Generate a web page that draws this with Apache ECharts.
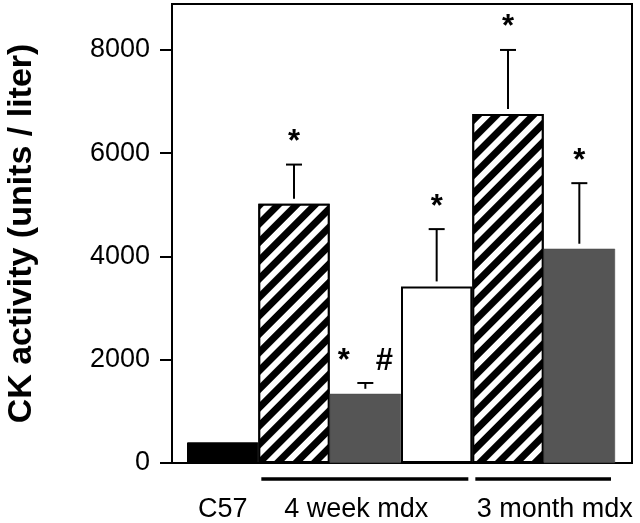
<!DOCTYPE html>
<html><head><meta charset="utf-8">
<script src="https://cdn.jsdelivr.net/npm/echarts@6/dist/echarts.min.js"></script>
<style>html,body{margin:0;padding:0;background:#fff}#c{width:640px;height:523px}</style>
</head><body><div id="c"></div>
<script>
// ---- data ----
const categories = ['C57', '4wk-1', '4wk-2', '4wk-3', '3mo-1', '3mo-2'];
const meanValues = [400, 5020, 1340, 3420, 6760, 4150];
const errorTops  = [null, 5780, 1550, 4530, 8000, 5420];
const sigLabels  = ['', '*', '*   #', '*', '*', '*'];
const barKinds   = ['solid', 'hatch', 'gray', 'white', 'hatch', 'gray'];
const groupNames = ['C57', '4 week mdx', '3 month mdx'];
const groupStart = [0, 1, 4];
const groupEnd   = [0, 3, 5];
const groupUnderline = [false, true, true];
const yTicks = [0, 2000, 4000, 6000, 8000];
const yMin = 0, yMax = 8890;

// ---- styles ----
const FONT = '"Liberation Sans", Arial, Helvetica, sans-serif';
const groupLabelShift = [0, -9, 11];
const hatchDecal = {
  symbol: 'rect', symbolSize: 1,
  dashArrayX: [1, 0], dashArrayY: [7, 6],
  rotation: -Math.PI / 4, color: '#000', backgroundColor: '#fff'
};
function styleFor(kind) {
  if (kind === 'solid') return { color: '#000', borderColor: '#000', borderWidth: 1 };
  if (kind === 'hatch') return { color: '#fff', borderColor: '#000', borderWidth: 2, decal: hatchDecal };
  if (kind === 'gray') return { color: '#555', borderColor: '#444', borderWidth: 0.5 };
  return { color: '#fff', borderColor: '#000', borderWidth: 2 };
}

const barData = meanValues.map((v, i) => ({ value: v, itemStyle: styleFor(barKinds[i]) }));
const errData = [];
errorTops.forEach((e, i) => { if (e != null) errData.push([i, meanValues[i], e]); });
const groupData = groupNames.map((n, g) => [groupStart[g], groupEnd[g], g]);

const chart = echarts.init(document.getElementById('c'), null, { renderer: 'canvas' });
chart.setOption({
  animation: false,
  backgroundColor: '#fff',
  grid: [
    { left: 187, right: 25, top: 4, bottom: 60, show: false, containLabel: false, outerBoundsMode: 'none' },
    { left: 172, right: 8, top: 4, bottom: 60, show: true, borderColor: '#000', borderWidth: 2,
      backgroundColor: 'transparent', containLabel: false, outerBoundsMode: 'none' }
  ],
  xAxis: [
    { gridIndex: 0, type: 'category', data: categories, show: false, boundaryGap: true },
    { gridIndex: 1, type: 'value', show: false, min: 0, max: 1 }
  ],
  yAxis: [
    { gridIndex: 0, type: 'value', min: yMin, max: yMax, show: false },
    {
      gridIndex: 1, type: 'value', min: yMin, max: yMax, interval: 2000,
      axisLine: { show: true, lineStyle: { color: '#000', width: 2 } },
      axisTick: { show: true, inside: false, length: 12, lineStyle: { color: '#000', width: 2 }, customValues: yTicks },
      axisLabel: { show: true, margin: 22, color: '#000', fontSize: 27, fontFamily: FONT, customValues: yTicks,
                   formatter: function (v) { return String(v); } },
      splitLine: { show: false },
      name: 'CK activity (units / liter)',
      nameLocation: 'middle', nameRotate: 90, nameGap: 133,
      nameTextStyle: { color: '#000', fontSize: 34, fontWeight: 'bold', fontFamily: FONT }
    }
  ],
  series: [
    {
      type: 'bar', xAxisIndex: 0, yAxisIndex: 0, data: barData,
      barWidth: '100%', barGap: '0%', barCategoryGap: '0%', z: 3
    },
    {
      type: 'custom', xAxisIndex: 0, yAxisIndex: 0, data: errData, z: 4,
      renderItem: function (params, api) {
        const i = api.value(0), v = api.value(1), e = api.value(2);
        const p0 = api.coord([i, v]);
        const p1 = api.coord([i, e]);
        const children = [
          { type: 'line', shape: { x1: p0[0], y1: p0[1] - 5, x2: p1[0], y2: p1[1] }, style: { stroke: '#000', lineWidth: 2 } },
          { type: 'line', shape: { x1: p1[0] - 8, y1: p1[1], x2: p1[0] + 8, y2: p1[1] }, style: { stroke: '#000', lineWidth: 2 } }
        ];
        const lab = sigLabels[i];
        if (lab) children.push({
          type: 'text', x: p1[0], y: p1[1] - 22,
          style: { text: lab, fill: '#000', font: 'bold 31px ' + FONT, align: 'center', verticalAlign: 'middle' }
        });
        return { type: 'group', children: children };
      }
    },
    {
      type: 'custom', xAxisIndex: 0, yAxisIndex: 0, data: groupData, z: 4, clip: false,
      renderItem: function (params, api) {
        const s = api.value(0), e = api.value(1), g = api.value(2);
        const band = api.size([1, 0])[0];
        const ps = api.coord([s, 0]), pe = api.coord([e, 0]);
        const left = ps[0] - band / 2, right = pe[0] + band / 2;
        const y0 = ps[1];
        const children = [];
        if (groupUnderline[g]) children.push({
          type: 'line', shape: { x1: left + 3, y1: y0 + 16, x2: right - 4, y2: y0 + 16 },
          style: { stroke: '#000', lineWidth: 3.5 }
        });
        children.push({
          type: 'text', x: (left + right) / 2 + groupLabelShift[g], y: y0 + 47,
          style: { text: groupNames[g], fill: '#000', font: '27px ' + FONT, align: 'center', verticalAlign: 'middle' }
        });
        return { type: 'group', children: children };
      }
    }
  ]
});
</script>
</body></html>
